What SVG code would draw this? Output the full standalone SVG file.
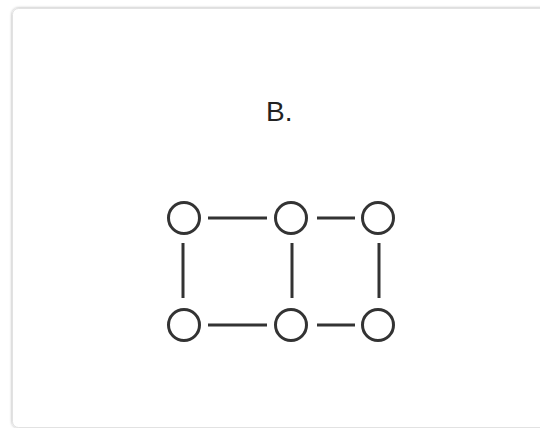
<svg xmlns="http://www.w3.org/2000/svg" width="540" height="428" viewBox="0 0 540 428">
  <defs>
    <filter id="sh" x="-5%" y="-5%" width="110%" height="110%">
      <feGaussianBlur in="SourceAlpha" stdDeviation="1.5"/>
      <feOffset dx="0" dy="0"/>
      <feComponentTransfer><feFuncA type="linear" slope="0.35"/></feComponentTransfer>
      <feMerge><feMergeNode/><feMergeNode in="SourceGraphic"/></feMerge>
    </filter>
  </defs>
  <style>
    .n { fill: #ffffff; stroke: #333333; stroke-width: 3; }
    .e { stroke: #333333; stroke-width: 3; fill: none; }
    .t { font-family: "Liberation Sans", Arial, sans-serif; font-size: 28px; fill: #222222; }
  </style>
  <rect x="0" y="0" width="540" height="428" fill="#ffffff"/>
  <rect x="12.5" y="8.5" width="560" height="419" rx="6" fill="#ffffff" stroke="#e2e2e2" stroke-width="1" filter="url(#sh)"/>
  <text class="t" x="266" y="121">B.</text>
  <g id="connectors">
    <line class="e" x1="208" y1="218" x2="267" y2="218"/>
    <line class="e" x1="317" y1="218" x2="355" y2="218"/>
    <line class="e" x1="208" y1="325" x2="267" y2="325"/>
    <line class="e" x1="317" y1="325" x2="355" y2="325"/>
    <line class="e" x1="183" y1="243" x2="183" y2="298"/>
    <line class="e" x1="292" y1="243" x2="292" y2="298"/>
    <line class="e" x1="379" y1="243" x2="379" y2="298"/>
  </g>
  <g id="n1"><circle class="n" cx="184" cy="218" r="15.5"/></g>
  <g id="n2"><circle class="n" cx="291" cy="218" r="15.5"/></g>
  <g id="n3"><circle class="n" cx="378" cy="218" r="15.5"/></g>
  <g id="n4"><circle class="n" cx="184" cy="325" r="15.5"/></g>
  <g id="n5"><circle class="n" cx="291" cy="325" r="15.5"/></g>
  <g id="n6"><circle class="n" cx="378" cy="325" r="15.5"/></g>
</svg>
